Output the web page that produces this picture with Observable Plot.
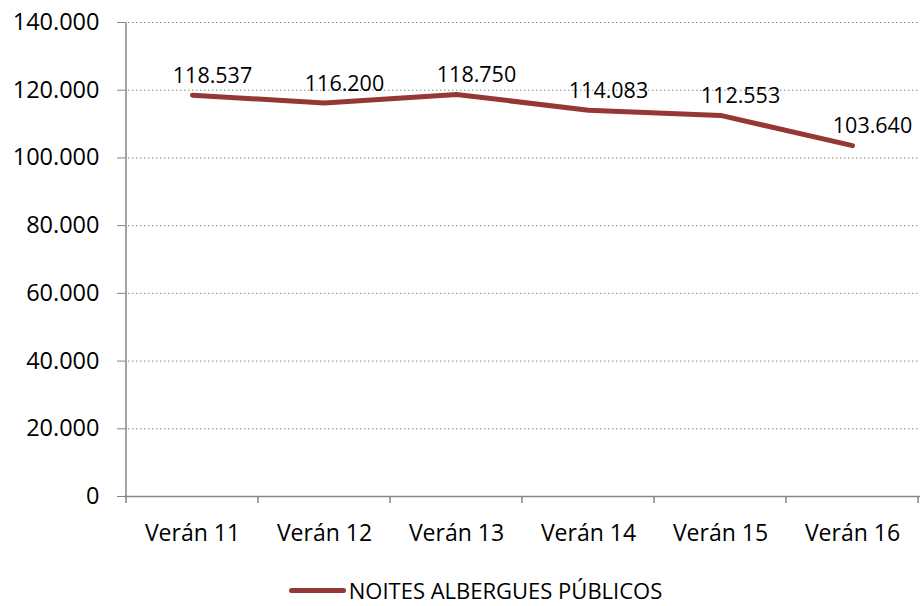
<!DOCTYPE html>
<html>
<head>
<meta charset="utf-8">
<script src="https://cdn.jsdelivr.net/npm/d3@7"></script>
<script src="https://cdn.jsdelivr.net/npm/@observablehq/plot@0.6"></script>
<style>
  html, body { margin: 0; padding: 0; background: #fff; }
  body { position: relative; width: 921px; height: 606px; overflow: hidden; font-family: "Open Sans", sans-serif; }
  #legend { position: absolute; left: 15px; top: 575px; width: 921px; height: 30px; line-height: 30px; display: flex; justify-content: center; align-items: center; font-size: 22px; color: #000; }
  #legend .sw { width: 57px; height: 5px; background: #953735; border-radius: 3px; margin-right: 3px; }
</style>
</head>
<body>
<div id="chart"></div>
<div id="legend"><span class="sw"></span><span id="legend-label"></span></div>
<script>
const categories = ["Verán 11", "Verán 12", "Verán 13", "Verán 14", "Verán 15", "Verán 16"];
const values = [118537, 116200, 118750, 114083, 112553, 103640];
const yTicks = [0, 20000, 40000, 60000, 80000, 100000, 120000, 140000];
const seriesName = "NOITES ALBERGUES PÚBLICOS";

document.getElementById("legend-label").textContent = seriesName;

const data = categories.map((c, i) => ({cat: c, value: values[i]}));
const fmt = d3.formatLocale({thousands: ".", grouping: [3], decimal: ","}).format(",");

const W = 921, H = 560, mL = 124, mR = 1, mT = 22, mB = 64;

const plot = Plot.plot({
  width: W, height: H,
  marginLeft: mL, marginRight: mR, marginTop: mT, marginBottom: mB,
  style: {fontFamily: "Open Sans, sans-serif", fontSize: "21px", color: "#000", background: "#fff"},
  x: {type: "band", domain: categories, padding: 0, label: null},
  y: {type: "linear", domain: [0, 140000], label: null},
  marks: [
    Plot.ruleY(yTicks.filter(d => d > 0), {y: d => d, stroke: "#878787", strokeDasharray: "1.5,2.5", strokeWidth: 1}),
    Plot.axisY({ticks: yTicks, tickFormat: fmt, tickSize: 7, tickPadding: 18, stroke: "#868686", fontSize: 23.5, label: null}),
    Plot.axisX({tickSize: 0, tickPadding: 28, fontSize: 23, label: null}),
    Plot.ruleY([0], {y: d => d, stroke: "#868686", strokeWidth: 1.5}),
    Plot.line(data, {x: "cat", y: "value", stroke: "#953735", strokeWidth: 5, strokeLinecap: "round", strokeLinejoin: "round"}),
    Plot.text(data, {x: "cat", y: "value", text: d => fmt(d.value), dx: 20, dy: -19, fontSize: 21.5, fill: "#000", textAnchor: "middle"})
  ]
});

// y-axis line and boundary ticks below the x axis (band edges)
const xs = plot.scale("x");
const ys = plot.scale("y");
const y0 = ys.apply(0), yTop = ys.apply(140000);
const svg = d3.select(plot);
const edges = categories.map(c => xs.apply(c)).concat([xs.apply(categories[categories.length - 1]) + xs.bandwidth]);
svg.append("line").attr("x1", edges[0]).attr("x2", edges[0]).attr("y1", yTop).attr("y2", y0)
  .attr("stroke", "#868686").attr("stroke-width", 1.5);
svg.append("g").selectAll("line").data(edges).join("line")
  .attr("x1", d => d).attr("x2", d => d)
  .attr("y1", y0).attr("y2", y0 + 7)
  .attr("stroke", "#868686").attr("stroke-width", 1.5);

document.getElementById("chart").appendChild(plot);
</script>
</body>
</html>
